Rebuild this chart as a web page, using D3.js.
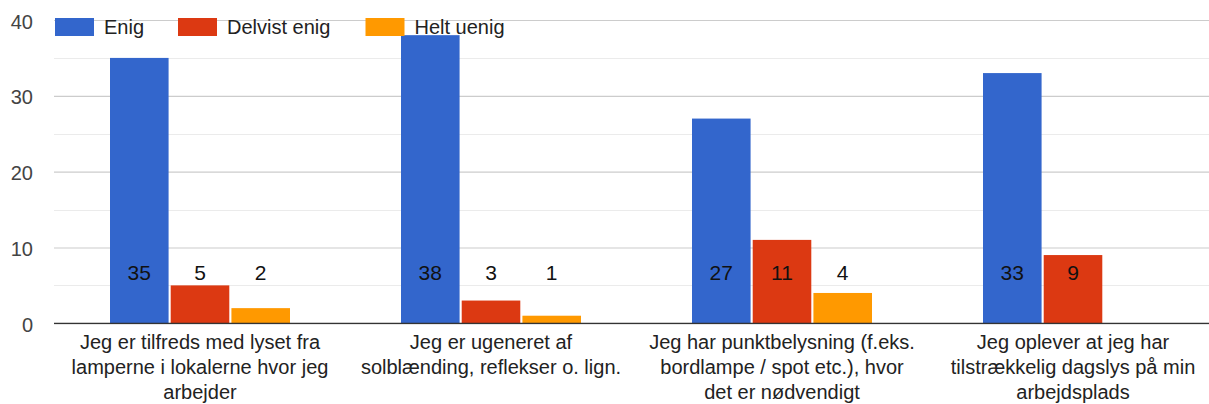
<!DOCTYPE html>
<html>
<head>
<meta charset="utf-8">
<script src="https://cdn.jsdelivr.net/npm/d3@7"></script>
<style>
  body { margin: 0; background: #fff; }
  svg { display: block; font-family: "Liberation Sans", Arial, sans-serif; }
</style>
</head>
<body>
<svg id="chart" width="1209" height="404"></svg>
<script>
// data
var categories = [
  ["Jeg er tilfreds med lyset fra", "lamperne i lokalerne hvor jeg", "arbejder"],
  ["Jeg er ugeneret af", "solblænding, reflekser o. lign."],
  ["Jeg har punktbelysning (f.eks.", "bordlampe / spot etc.), hvor", "det er nødvendigt"],
  ["Jeg oplever at jeg har", "tilstrækkelig dagslys på min", "arbejdsplads"]
];
var seriesNames = ["Enig", "Delvist enig", "Helt uenig"];
var enig = [35, 38, 27, 33];
var delvistEnig = [5, 3, 11, 9];
var heltUenig = [2, 1, 4, 0];
var yTicks = [0, 10, 20, 30, 40];
var minorTicks = [5, 15, 25, 35];
var colors = ["#3366cc", "#dc3912", "#ff9900"];

var seriesValues = [enig, delvistEnig, heltUenig];

window.onload = function() {
    drawChart();
};

function drawChart() {
    var svg = d3.select("#chart");

    // scales
    var catIdx = d3.range(categories.length);
    var x0 = d3.scaleBand()
        .domain(catIdx)
        .range([54.5, 1218.5]);

    var x1 = d3.scaleBand()
        .domain(d3.range(seriesNames.length))
        .range([-90, 90])
        .paddingInner(0.035);

    var y = d3.scaleLinear()
        .domain([0, 40])
        .range([323.3, 20]);

    // minor gridlines
    svg.append("g").selectAll("line")
        .data(minorTicks)
        .enter()
        .append("line")
        .attr("x1", 54).attr("x2", 1209)
        .attr("y1", function(d) { return Math.round(y(d)) + 0.5; })
        .attr("y2", function(d) { return Math.round(y(d)) + 0.5; })
        .attr("stroke", "#ebebeb");

    // y axis with major gridlines
    var yAxis = d3.axisLeft(y)
        .tickValues(yTicks)
        .tickSize(-1155);

    var gy = svg.append("g")
        .attr("transform", "translate(54,0)")
        .call(yAxis);
    gy.select(".domain").remove();
    gy.selectAll(".tick line")
        .attr("stroke", "#cccccc")
        .attr("stroke-width", 1.2);
    gy.selectAll(".tick text")
        .attr("x", -21)
        .attr("dy", "0.4em")
        .style("font-size", "20px")
        .style("font-family", "Liberation Sans, Arial, sans-serif")
        .attr("fill", "#444");

    // bars
    var rows = [];
    catIdx.forEach(function(c) {
        seriesValues.forEach(function(vals, s) {
            rows.push({c: c, s: s, v: vals[c]});
        });
    });

    var bars = svg.append("g");
    bars.selectAll("rect")
        .data(rows.filter(function(d) { return d.v > 0; }))
        .enter()
        .append("rect")
        .attr("x", function(d) { return x0(d.c) + x0.bandwidth() / 2 + x1(d.s); })
        .attr("y", function(d) { return y(d.v); })
        .attr("width", x1.bandwidth())
        .attr("height", function(d) { return y(0) - y(d.v); })
        .attr("fill", function(d) { return colors[d.s]; });

    // baseline
    svg.append("line")
        .attr("x1", 54).attr("x2", 1209)
        .attr("y1", y(0)).attr("y2", y(0))
        .attr("stroke", "#333")
        .attr("stroke-width", 1.3);

    // value labels (placed at a fixed height, like the original)
    var labelY = 272;
    bars.selectAll("text")
        .data(rows.filter(function(d) { return d.v > 0; }))
        .enter()
        .append("text")
        .attr("x", function(d) { return x0(d.c) + x0.bandwidth() / 2 + x1(d.s) + x1.bandwidth() / 2; })
        .attr("y", labelY)
        .attr("dy", "0.36em")
        .attr("text-anchor", "middle")
        .style("font-size", "21px")
        .attr("fill", "#111")
        .text(function(d) { return d.v; });

    // category labels
    var gx = svg.append("g");
    categories.forEach(function(lines, c) {
        var t = gx.append("text")
            .attr("text-anchor", "middle")
            .style("font-size", "20px")
            .attr("fill", "#222");
        lines.forEach(function(line, i) {
            t.append("tspan")
                .attr("x", x0(c) + x0.bandwidth() / 2)
                .attr("y", 349 + i * 25)
                .text(line);
        });
    });

    // legend
    var legendX = [55, 178, 365.5];
    var legend = svg.append("g");
    seriesNames.forEach(function(name, i) {
        legend.append("rect")
            .attr("x", legendX[i])
            .attr("y", 18)
            .attr("width", 39)
            .attr("height", 18)
            .attr("fill", colors[i]);
        legend.append("text")
            .attr("x", legendX[i] + 49)
            .attr("y", 34)
            .style("font-size", "20px")
            .attr("fill", "#222")
            .text(name);
    });
}
</script>
</body>
</html>
